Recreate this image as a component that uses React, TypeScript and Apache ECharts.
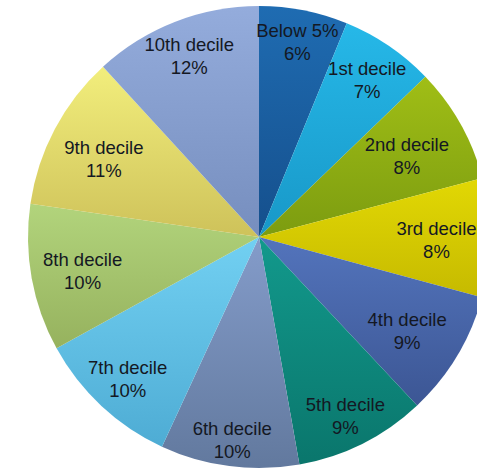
import React, { useEffect, useRef } from "react";
import * as echarts from "echarts";

const categories = [
  "Below 5%",
  "1st decile",
  "2nd decile",
  "3rd decile",
  "4th decile",
  "5th decile",
  "6th decile",
  "7th decile",
  "8th decile",
  "9th decile",
  "10th decile",
];
const shares = [6.2, 6.6, 8.1, 8.3, 8.8, 9.2, 9.7, 10.1, 10.3, 10.9, 11.8];

// styling only
const topColors = [
  "#1f6cb2", "#26b8e8", "#a0be16", "#e2d804", "#5374bc", "#12998c",
  "#849cca", "#72d0f2", "#b2d47c", "#f2ee7c", "#94acdc",
];
const bottomColors = [
  "#154f8c", "#1898c8", "#7c9c10", "#c6ba00", "#3c5694", "#0a766c",
  "#62799e", "#4eacd4", "#96b25e", "#cec25a", "#768ebe",
];
const labelNudge = [
  [1, -6], [0, 2], [-20, 13], [-15, 2], [-17, -5], [0, 7],
  [-2, 12], [0, 1], [13, 0], [15, 12], [0, -2],
];

export default function App() {
  const ref = useRef<HTMLDivElement>(null);
  useEffect(() => {
    if (!ref.current) return;
    const chart = echarts.init(ref.current, null, { renderer: "svg" });
    const pieData = categories.map((name, i) => ({
      name,
      value: shares[i],
      itemStyle: {
        color: new echarts.graphic.LinearGradient(0, 0, 0, 1, [
          { offset: 0, color: topColors[i] },
          { offset: 1, color: bottomColors[i] },
        ]),
      },
    }));
    const labelData = categories.map((name, i) => ({
      name,
      value: shares[i],
      label: { offset: labelNudge[i] },
    }));
    chart.setOption({
      animation: false,
      series: [
        {
          type: "pie",
          center: [259, 237],
          radius: [0, 231],
          startAngle: 90,
          clockwise: true,
          silent: true,
          label: { show: false },
          labelLine: { show: false },
          itemStyle: { borderWidth: 0 },
          data: pieData,
        },
        {
          type: "pie",
          center: [259, 237],
          radius: [148, 231],
          startAngle: 90,
          clockwise: true,
          silent: true,
          avoidLabelOverlap: false,
          labelLayout: { hideOverlap: false },
          itemStyle: { color: "rgba(0,0,0,0)", borderWidth: 0 },
          labelLine: { show: false },
          label: {
            show: true,
            position: "inside",
            color: "#141823",
            fontFamily: "Liberation Sans, Arial, sans-serif",
            fontSize: 18.5,
            lineHeight: 23,
            align: "center",
            overflow: "none",
            formatter: (p: any) => `${p.name}\n${Math.round(p.value)}%`,
          },
          data: labelData,
        },
      ],
    });
    return () => chart.dispose();
  }, []);
  return (
    <div
      ref={ref}
      style={{ position: "absolute", left: 0, top: 0, width: 477, height: 471, background: "#fff" }}
    />
  );
}
